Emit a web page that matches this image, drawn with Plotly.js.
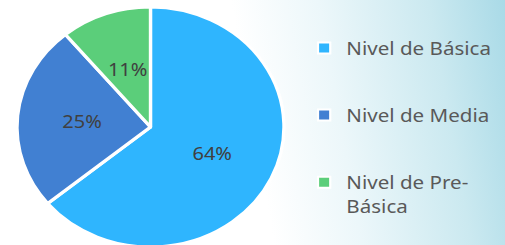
<!DOCTYPE html>
<html><head><meta charset="utf-8">
<script src="https://cdn.plot.ly/plotly-3.0.1.min.js"></script>
<style>
html,body{margin:0;padding:0;width:505px;height:245px;overflow:hidden;}
body{background:linear-gradient(80deg,#ffffff 0%,#ffffff 50%,#ecf7fa 66%,#cbe9f0 86%,#a9dae7 100%);}
#wrap{width:454px;height:250px;transform:scaleX(1.1123);transform-origin:0 0;}
</style></head><body><div id="wrap"></div>
<script>
// data
const categories = ['Nivel de Básica', 'Nivel de Media', 'Nivel de Pre-Básica'];
const values = [64, 25, 11];
const colors = ['#2FB5FE', '#4180D2', '#5BCE7A'];
// legend display text for each category (wrapped as in the reference)
const legendText = ['Nivel de Básica', 'Nivel de Media', 'Nivel de Pre-<br>Básica'];

const pieDomainX = [0.0337, 0.5623];
const pieDomainY = [0, 1];
const plotW = 454, plotH = 240;

const pie = {
  type: 'pie',
  labels: categories,
  values: values,
  sort: false,
  direction: 'clockwise',
  rotation: 0,
  marker: {colors: colors, line: {color: '#ffffff', width: 3}},
  textinfo: 'none',
  hoverinfo: 'none',
  showlegend: false,
  domain: {x: pieDomainX, y: pieDomainY}
};

// legend entries (one per category)
const legendTraces = categories.map((c, i) => ({
  type: 'scatter',
  mode: 'markers',
  x: [null], y: [null],
  name: legendText[i],
  legendgroup: 'g' + i,
  marker: {symbol: 'square', size: 11, color: colors[i], line: {color: '#ffffff', width: 2}},
  hoverinfo: 'none'
}));

// percentage labels placed along each slice's bisector (Excel-style)
const total = values.reduce((a, b) => a + b, 0);
const cx = (pieDomainX[0] + pieDomainX[1]) / 2;
const cy = (pieDomainY[0] + pieDomainY[1]) / 2;
const rPx = Math.min((pieDomainX[1] - pieDomainX[0]) * plotW, (pieDomainY[1] - pieDomainY[0]) * plotH) / 2;
let cum = 0;
const annotations = values.map(v => {
  const mid = (cum + v / 2) / total * 2 * Math.PI;
  cum += v;
  const d = 0.51 * rPx;
  return {
    xref: 'paper', yref: 'paper',
    x: cx + d * Math.sin(mid) / plotW,
    y: cy + d * Math.cos(mid) / plotH,
    text: Math.round(v / total * 100) + '%',
    showarrow: false,
    xanchor: 'center', yanchor: 'middle',
    font: {family: 'Noto Sans', size: 18, color: '#404040'}
  };
});

const layout = {
  width: 454, height: 250,
  margin: {l: 0, r: 0, t: 7, b: 3},
  paper_bgcolor: 'rgba(0,0,0,0)',
  plot_bgcolor: 'rgba(0,0,0,0)',
  xaxis: {visible: false},
  yaxis: {visible: false},
  showlegend: true,
  annotations: annotations,
  legend: {
    x: 0.5978, xanchor: 'left', y: 0.90625, yanchor: 'top',
    valign: 'top', bgcolor: 'rgba(0,0,0,0)',
    traceorder: 'grouped', tracegroupgap: 40,
    font: {family: 'Noto Sans', size: 18.5, color: '#595959'}
  }
};

Plotly.newPlot('wrap', [pie].concat(legendTraces), layout, {staticPlot: true, displayModeBar: false});
</script>
</body></html>
